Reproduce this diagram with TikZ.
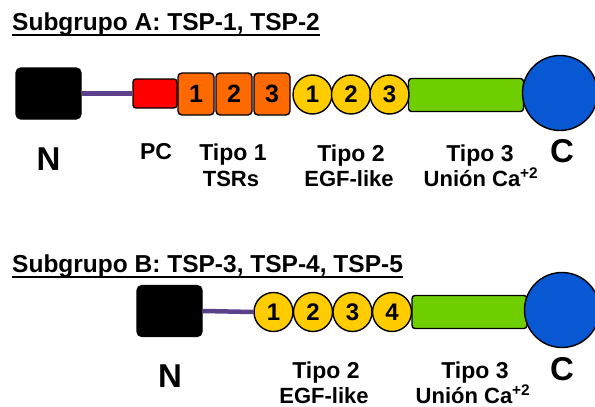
\documentclass[tikz,border=0pt]{standalone}
\usepackage{fontspec}
\setmainfont{Liberation Sans}
\definecolor{linkpurple}{RGB}{92,64,140}
\definecolor{pcred}{RGB}{255,0,0}
\definecolor{tsrorange}{RGB}{255,106,0}
\definecolor{egfyellow}{RGB}{255,204,0}
\definecolor{cagreen}{RGB}{110,206,0}
\definecolor{cblue}{RGB}{8,88,212}
\begin{document}
\begin{tikzpicture}[x=1pt,y=-1pt,
  outl/.style={draw=black,line width=1.4pt},
  nbox/.style={outl,fill=black,rounded corners=5pt,minimum width=65pt,minimum height=51pt,inner sep=0pt},
  pcbox/.style={outl,fill=pcred,rounded corners=3pt,minimum width=44pt,minimum height=29pt,inner sep=0pt},
  tsrbox/.style={outl,fill=tsrorange,rounded corners=4pt,minimum width=36pt,minimum height=42pt,inner sep=0pt,font=\fontsize{25}{25}\bfseries},
  egfcirc/.style={outl,fill=egfyellow,circle,minimum size=39pt,inner sep=0pt,font=\fontsize{24}{24}\bfseries},
  cabar/.style={outl,fill=cagreen,rounded corners=3pt,minimum width=115pt,minimum height=33pt,inner sep=0pt},
  cterm/.style={outl,fill=cblue,circle,minimum size=75pt,inner sep=0pt},
  link/.style={draw=linkpurple,line width=4.5pt},
  ttl/.style={anchor=base west,inner sep=0pt,font=\fontsize{24.5}{24.5}\bfseries},
  ulin/.style={line width=2pt},
  lab/.style={anchor=base,inner sep=0pt,font=\fontsize{23}{23}\bfseries},
  labb/.style={anchor=base,inner sep=0pt,font=\fontsize{22}{22}\bfseries},
  term/.style={anchor=base,inner sep=0pt,font=\fontsize{33}{33}\bfseries}
]
\useasboundingbox (0,0) rectangle (595,407);

% ---------- Subgroup A ----------
\node[ttl] (tA) at (12,30.5) {Subgrupo A: TSP-1, TSP-2};
\draw[ulin] ([yshift=-4.5pt]tA.base west) -- ([yshift=-4.5pt]tA.base east);

\node[nbox] (NA) at (48.5,93.5) {};
\node[pcbox] (PCA) at (155,93.5) {};
\draw[link] (NA.east) -- (PCA.west);
\node[tsrbox] (oA1) at (196,94) {1};
\node[tsrbox] (oA2) at (234,94) {2};
\node[tsrbox] (oA3) at (272,94) {3};
\node[cabar] (gA) at (466,95) {};
\node[egfcirc] (yA1) at (312.5,94.5) {1};
\node[egfcirc] (yA2) at (351,94.5) {2};
\node[egfcirc] (yA3) at (389.5,94.5) {3};
\node[cterm] (cA) at (560,93) {};

\node[term] (lNA) at (48.5,170) {N};
\node[lab] (lPC) at (156,159.5) {PC};
\node[lab] (lT1) at (233,160) {Tipo 1};
\node[labb] (lT1b) at (231,186) {TSRs};
\node[lab] (lT2) at (351,161) {Tipo 2};
\node[labb] (lT2b) at (349,186.5) {EGF-like};
\node[lab] (lT3) at (480,161) {Tipo 3};
\node[labb] (lT3b) at (481,186.5) {Unión Ca\textsuperscript{+2}};
\node[term] (lCA) at (562,162) {C};

% ---------- Subgroup B ----------
\node[ttl] (tB) at (12,272) {Subgrupo B: TSP-3, TSP-4, TSP-5};
\draw[ulin] ([yshift=-4.5pt]tB.base west) -- ([yshift=-4.5pt]tB.base east);

\node[nbox] (NB) at (169.5,311) {};
\node[egfcirc] (yB1) at (273.5,312) {1};
\draw[link] (NB.east) -- (yB1.west);
\node[egfcirc] (yB2) at (313,312) {2};
\node[egfcirc] (yB3) at (352.5,312) {3};
\node[cabar] (gB) at (469.5,312) {};
\node[egfcirc] (yB4) at (392,312) {4};
\node[cterm] (cB) at (562,310) {};

\node[term] (lNB) at (170,387) {N};
\node[lab] (lB2) at (326,378) {Tipo 2};
\node[labb] (lB2b) at (324,403) {EGF-like};
\node[lab] (lB3) at (475,378) {Tipo 3};
\node[labb] (lB3b) at (473,403) {Unión Ca\textsuperscript{+2}};
\node[term] (lCB) at (562,380) {C};
\end{tikzpicture}
\end{document}
